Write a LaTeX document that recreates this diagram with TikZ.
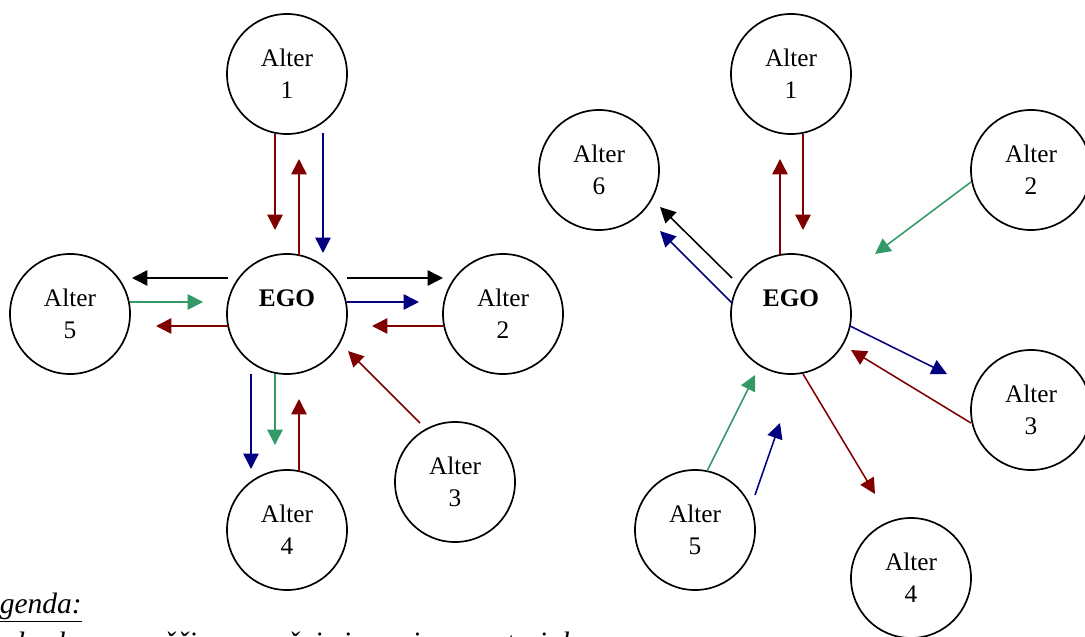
\documentclass[tikz,border=0pt]{standalone}
\usepackage{fontspec}
\setmainfont{Liberation Serif}
\usepackage{tikz}
\usetikzlibrary{arrows.meta}

\definecolor{egored}{RGB}{128,0,0}
\definecolor{egoblue}{RGB}{0,0,128}
\definecolor{egogreen}{RGB}{51,153,102}

\begin{document}
\begin{tikzpicture}
        [
            x=0.025cm, y=-0.025cm,
            alter/.style={circle, draw=black, line width=1.2pt, minimum size=3cm, inner sep=0pt,
                          align=center, font=\fontsize{18}{23}\selectfont},
            arr/.style={line width=1.1pt, -{Triangle[length=11pt, width=11pt]}},
            rarr/.style={arr, egored},
            barr/.style={arr, egoblue},
            garr/.style={arr, egogreen},
            karr/.style={arr, black},
            legend/.style={anchor=base west, inner sep=0pt, font=\fontsize{21}{26}\itshape},
        ]
        \useasboundingbox (0,0) rectangle (1085,637);

        % left network
        \node[alter] (lego) at (287,314) {\textbf{EGO}\\\phantom{1}};
        \node[alter] (la1) at (287,74) {Alter\\1};
        \node[alter] (la2) at (503,314) {Alter\\2};
        \node[alter] (la3) at (455,482) {Alter\\3};
        \node[alter] (la4) at (287,530) {Alter\\4};
        \node[alter] (la5) at (70,314) {Alter\\5};

        \draw[rarr] ([shift={(-12,60)}]la1.center) -- ++(0,96);
        \draw[rarr] ([shift={(12,-59)}]lego.center) -- ++(0,-96);
        \draw[barr] ([shift={(36,59)}]la1.center) -- ++(0,120);
        \draw[karr] ([shift={(-59,-36)}]lego.center) -- ++(-96,0);
        \draw[karr] ([shift={(60,-36)}]lego.center) -- ++(96,0);
        \draw[garr] ([shift={(60,-12)}]la5.center) -- ++(73,0);
        \draw[barr] ([shift={(60,-12)}]lego.center) -- ++(72,0);
        \draw[rarr] ([shift={(-59,12)}]lego.center) -- ++(-72,0);
        \draw[rarr] ([shift={(-60,12)}]la2.center) -- ++(-71,0);
        \draw[rarr] ([shift={(-35,-59)}]la3.center) -- ++(-72,-72);
        \draw[barr] ([shift={(-36,60)}]lego.center) -- ++(0,95);
        \draw[garr] ([shift={(-12,60)}]lego.center) -- ++(0,71);
        \draw[rarr] ([shift={(12,-59)}]la4.center) -- ++(0,-72);

        % right network
        \node[alter] (rego) at (791,314) {\textbf{EGO}\\\phantom{1}};
        \node[alter] (ra1) at (791,74) {Alter\\1};
        \node[alter] (ra2) at (1031,170) {Alter\\2};
        \node[alter] (ra3) at (1031,410) {Alter\\3};
        \node[alter] (ra4) at (911,578) {Alter\\4};
        \node[alter] (ra5) at (695,530) {Alter\\5};
        \node[alter] (ra6) at (599,170) {Alter\\6};

        \draw[rarr] ([shift={(-11,-59)}]rego.center) -- ++(0,-96);
        \draw[rarr] ([shift={(12,60)}]ra1.center) -- ++(0,96);
        \draw[karr] ([shift={(-59,-36)}]rego.center) -- ++(-72,-71);
        \draw[barr] ([shift={(-59,-11)}]rego.center) -- ++(-72,-72);
        \draw[garr] ([shift={(-60,12)}]ra2.center) -- ++(-96,72);
        \draw[barr] ([shift={(59,12)}]rego.center) -- ++(97,48);
        \draw[rarr] ([shift={(-60,13)}]ra3.center) -- ++(-120,-73);
        \draw[rarr] ([shift={(12,60)}]rego.center) -- ++(72,120);
        \draw[garr] ([shift={(12,-59)}]ra5.center) -- ++(48,-96);
        \draw[barr] ([shift={(60,-35)}]ra5.center) -- ++(25,-72);

        % legend
        \node[legend] (leg) at (-30,613) {\underline{Legenda:}};
        \node[legend] (legblue) at (-30,652) {Modra barva puščice označuje izmenjavo materialne opore};
\end{tikzpicture}
\end{document}
